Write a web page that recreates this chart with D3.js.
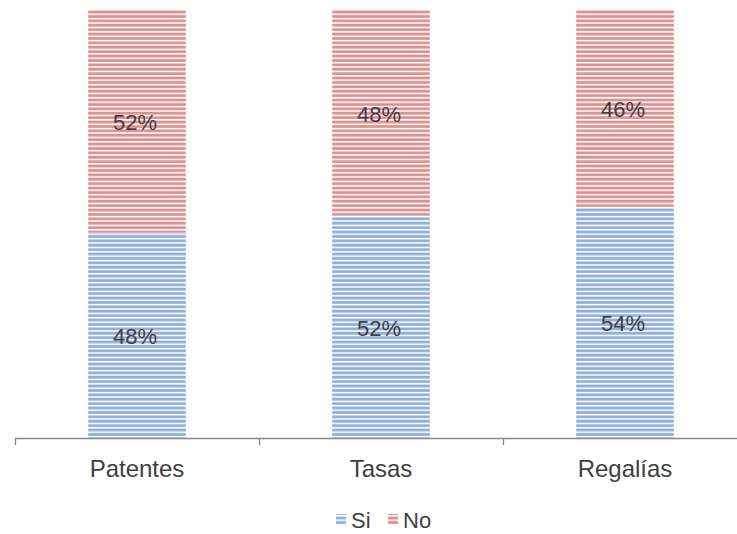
<!DOCTYPE html>
<html><head><meta charset="utf-8">
<script src="https://cdn.jsdelivr.net/npm/d3@7"></script>
<style>body{margin:0;background:#fff}svg{display:block}</style>
</head><body>
<svg id="c" width="737" height="534"></svg>
<script>
const categories = ["Patentes", "Tasas", "Regalías"];
const seriesNames = ["Si", "No"];
const siValues = [48, 52, 54];
const noValues = [52, 48, 46];
const seriesColors = ["#8eaed8", "#dc8f8f"];

const svg = d3.select("#c");
const W = 737, H = 534;
const margin = {left: 15, right: -10, top: 10, bottom: 96};
const x = d3.scaleBand().domain(categories).range([margin.left, W - margin.right]).paddingInner(0.6).paddingOuter(0.3);
const y = d3.scaleLinear().domain([0, 100]).range([H - margin.bottom, margin.top]);
const FONT = "Liberation Sans, Arial, sans-serif";

const defs = svg.append("defs");
seriesColors.forEach((c, i) => {
  const p = defs.append("pattern").attr("id", "pat" + i).attr("patternUnits", "userSpaceOnUse")
    .attr("width", 8).attr("height", 4.4).attr("y", margin.top);
  p.append("rect").attr("width", 8).attr("height", 4.4).attr("fill", "#fff");
  p.append("rect").attr("y", 0.6).attr("width", 8).attr("height", 2.8).attr("fill", c);
});

const data = categories.map((c, i) => ({cat: c, vals: [siValues[i], noValues[i]]}));
const stack = d3.stack().keys([0, 1]).value((d, k) => d.vals[k]);
const layers = stack(data);

layers.forEach((layer, k) => {
  const g = svg.append("g");
  g.selectAll("rect").data(layer).enter().append("rect")
    .attr("x", d => x(d.data.cat))
    .attr("width", x.bandwidth())
    .attr("y", d => y(d[1]))
    .attr("height", d => y(d[0]) - y(d[1]))
    .attr("fill", `url(#pat${k})`);
  g.selectAll("text").data(layer).enter().append("text")
    .attr("x", d => x(d.data.cat) + x.bandwidth() / 2 - 2)
    .attr("y", d => (y(d[0]) + y(d[1])) / 2 + 1)
    .attr("dy", "0.36em")
    .attr("text-anchor", "middle")
    .attr("font-family", FONT)
    .attr("font-size", 22)
    .attr("fill", "#404040")
    .text(d => (d[1] - d[0]) + "%");
});

// axis
const step = x.step();
const axisY = y(0);
const edges = d3.range(categories.length + 1).map(i => margin.left + i * step);
const ax = svg.append("g");
ax.append("line").attr("x1", margin.left).attr("x2", W).attr("y1", axisY + 0.5).attr("y2", axisY + 0.5)
  .attr("stroke", "#878787").attr("stroke-width", 1.3);
ax.selectAll("line.t").data(edges).enter().append("line").attr("class", "t")
  .attr("x1", d => d + 0.5).attr("x2", d => d + 0.5).attr("y1", axisY).attr("y2", axisY + 7)
  .attr("stroke", "#878787").attr("stroke-width", 1.3);
ax.selectAll("text").data(categories).enter().append("text")
  .attr("x", d => x(d) + x.bandwidth() / 2)
  .attr("y", axisY + 39)
  .attr("text-anchor", "middle")
  .attr("font-family", FONT)
  .attr("font-size", 24)
  .attr("fill", "#404040")
  .text(d => d);

// legend
const leg = svg.append("g");
const legX = [336, 388];
seriesNames.forEach((n, i) => {
  leg.append("rect").attr("x", legX[i]).attr("y", 514).attr("width", 10).attr("height", 11)
    .attr("fill", `url(#pat${i})`);
  leg.append("text").attr("x", legX[i] + 15).attr("y", 528)
    .attr("font-family", FONT)
    .attr("font-size", 22).attr("fill", "#404040").text(n);
});
</script>
</body></html>
